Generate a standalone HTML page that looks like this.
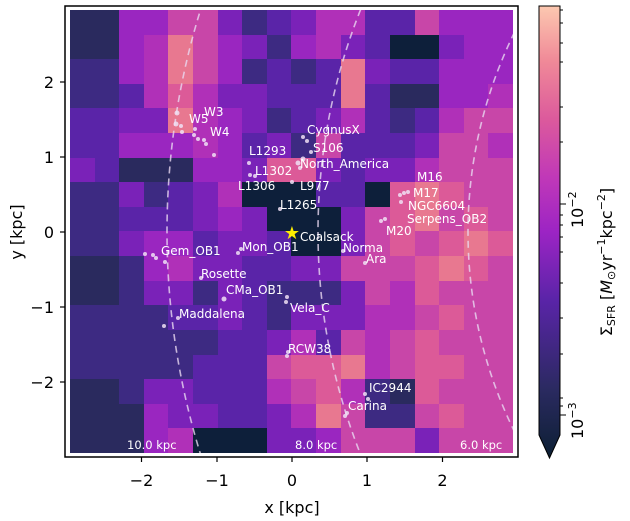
<!DOCTYPE html>
<html><head><meta charset="utf-8"><style>
html,body{margin:0;padding:0;background:#fff;width:630px;height:521px;overflow:hidden}
svg{display:block;position:absolute;left:0;top:0}
svg text{font-family:"DejaVu Sans","Liberation Sans",sans-serif}
.g{position:absolute;left:70px;top:10px;width:443px;height:443px;display:grid;grid-template-columns:repeat(18,1fr);grid-template-rows:repeat(18,1fr)}
.g i{display:block}
.a{background:#0d1f3a}.b{background:#2a2a5e}.c{background:#3d2a82}.d{background:#5a24a8}.e{background:#7a22b8}.f{background:#9a26c0}.g .g1{}
.gg{background:#b030b8}.h{background:#c846a8}.ii{background:#dc5a98}.j{background:#e87890}
</style></head><body>
<div class="g">
<i class="b"></i><i class="b"></i><i class="f"></i><i class="f"></i><i class="h"></i><i class="h"></i><i class="e"></i><i class="c"></i><i class="d"></i><i class="e"></i><i class="gg"></i><i class="gg"></i><i class="d"></i><i class="d"></i><i class="h"></i><i class="f"></i><i class="f"></i><i class="f"></i>
<i class="b"></i><i class="b"></i><i class="f"></i><i class="gg"></i><i class="j"></i><i class="h"></i><i class="f"></i><i class="e"></i><i class="c"></i><i class="f"></i><i class="gg"></i><i class="e"></i><i class="d"></i><i class="a"></i><i class="a"></i><i class="e"></i><i class="f"></i><i class="f"></i>
<i class="c"></i><i class="c"></i><i class="f"></i><i class="gg"></i><i class="j"></i><i class="h"></i><i class="f"></i><i class="c"></i><i class="d"></i><i class="c"></i><i class="d"></i><i class="j"></i><i class="e"></i><i class="d"></i><i class="d"></i><i class="f"></i><i class="f"></i><i class="f"></i>
<i class="c"></i><i class="c"></i><i class="d"></i><i class="gg"></i><i class="ii"></i><i class="gg"></i><i class="e"></i><i class="e"></i><i class="d"></i><i class="d"></i><i class="d"></i><i class="j"></i><i class="d"></i><i class="b"></i><i class="b"></i><i class="f"></i><i class="f"></i><i class="gg"></i>
<i class="d"></i><i class="d"></i><i class="e"></i><i class="e"></i><i class="j"></i><i class="gg"></i><i class="f"></i><i class="e"></i><i class="c"></i><i class="d"></i><i class="e"></i><i class="gg"></i><i class="d"></i><i class="c"></i><i class="d"></i><i class="gg"></i><i class="h"></i><i class="h"></i>
<i class="d"></i><i class="d"></i><i class="f"></i><i class="f"></i><i class="f"></i><i class="gg"></i><i class="f"></i><i class="d"></i><i class="e"></i><i class="c"></i><i class="h"></i><i class="d"></i><i class="d"></i><i class="d"></i><i class="e"></i><i class="h"></i><i class="h"></i><i class="gg"></i>
<i class="e"></i><i class="d"></i><i class="b"></i><i class="b"></i><i class="b"></i><i class="f"></i><i class="f"></i><i class="e"></i><i class="ii"></i><i class="ii"></i><i class="e"></i><i class="d"></i><i class="e"></i><i class="e"></i><i class="gg"></i><i class="h"></i><i class="h"></i><i class="h"></i>
<i class="c"></i><i class="c"></i><i class="e"></i><i class="c"></i><i class="d"></i><i class="e"></i><i class="gg"></i><i class="a"></i><i class="a"></i><i class="a"></i><i class="d"></i><i class="d"></i><i class="a"></i><i class="ii"></i><i class="j"></i><i class="ii"></i><i class="h"></i><i class="h"></i>
<i class="c"></i><i class="c"></i><i class="d"></i><i class="d"></i><i class="d"></i><i class="e"></i><i class="f"></i><i class="e"></i><i class="a"></i><i class="a"></i><i class="a"></i><i class="e"></i><i class="h"></i><i class="ii"></i><i class="j"></i><i class="h"></i><i class="ii"></i><i class="h"></i>
<i class="c"></i><i class="c"></i><i class="e"></i><i class="f"></i><i class="f"></i><i class="d"></i><i class="e"></i><i class="e"></i><i class="d"></i><i class="a"></i><i class="a"></i><i class="e"></i><i class="h"></i><i class="ii"></i><i class="h"></i><i class="ii"></i><i class="j"></i><i class="ii"></i>
<i class="b"></i><i class="b"></i><i class="c"></i><i class="f"></i><i class="gg"></i><i class="e"></i><i class="e"></i><i class="d"></i><i class="d"></i><i class="e"></i><i class="e"></i><i class="h"></i><i class="h"></i><i class="h"></i><i class="ii"></i><i class="j"></i><i class="ii"></i><i class="h"></i>
<i class="b"></i><i class="b"></i><i class="c"></i><i class="e"></i><i class="e"></i><i class="c"></i><i class="e"></i><i class="d"></i><i class="c"></i><i class="c"></i><i class="c"></i><i class="e"></i><i class="h"></i><i class="gg"></i><i class="ii"></i><i class="h"></i><i class="h"></i><i class="h"></i>
<i class="c"></i><i class="c"></i><i class="c"></i><i class="c"></i><i class="d"></i><i class="d"></i><i class="e"></i><i class="d"></i><i class="c"></i><i class="e"></i><i class="e"></i><i class="e"></i><i class="gg"></i><i class="gg"></i><i class="h"></i><i class="ii"></i><i class="h"></i><i class="h"></i>
<i class="c"></i><i class="c"></i><i class="c"></i><i class="c"></i><i class="c"></i><i class="c"></i><i class="d"></i><i class="d"></i><i class="e"></i><i class="gg"></i><i class="d"></i><i class="h"></i><i class="gg"></i><i class="h"></i><i class="ii"></i><i class="h"></i><i class="h"></i><i class="h"></i>
<i class="c"></i><i class="c"></i><i class="c"></i><i class="c"></i><i class="c"></i><i class="d"></i><i class="d"></i><i class="d"></i><i class="h"></i><i class="ii"></i><i class="ii"></i><i class="j"></i><i class="gg"></i><i class="h"></i><i class="ii"></i><i class="ii"></i><i class="h"></i><i class="h"></i>
<i class="b"></i><i class="b"></i><i class="c"></i><i class="e"></i><i class="e"></i><i class="d"></i><i class="d"></i><i class="d"></i><i class="gg"></i><i class="h"></i><i class="ii"></i><i class="gg"></i><i class="c"></i><i class="b"></i><i class="ii"></i><i class="h"></i><i class="h"></i><i class="h"></i>
<i class="b"></i><i class="b"></i><i class="b"></i><i class="f"></i><i class="e"></i><i class="e"></i><i class="d"></i><i class="d"></i><i class="e"></i><i class="gg"></i><i class="j"></i><i class="h"></i><i class="c"></i><i class="c"></i><i class="h"></i><i class="ii"></i><i class="h"></i><i class="h"></i>
<i class="b"></i><i class="b"></i><i class="b"></i><i class="f"></i><i class="gg"></i><i class="a"></i><i class="a"></i><i class="a"></i><i class="e"></i><i class="e"></i><i class="f"></i><i class="h"></i><i class="h"></i><i class="h"></i><i class="e"></i><i class="h"></i><i class="h"></i><i class="h"></i>
</div>
<svg width="630" height="521" viewBox="0 0 630 521" xmlns="http://www.w3.org/2000/svg">
<defs>
<clipPath id="cp"><rect x="70" y="10" width="443" height="443"/></clipPath>
<linearGradient id="cb" x1="0" y1="1" x2="0" y2="0">
<stop offset="0" stop-color="#0c1f33"/>
<stop offset="0.15" stop-color="#2a2a60"/>
<stop offset="0.35" stop-color="#5a24a8"/>
<stop offset="0.5" stop-color="#9c24c4"/>
<stop offset="0.62" stop-color="#c038b8"/>
<stop offset="0.75" stop-color="#dc5a9c"/>
<stop offset="0.88" stop-color="#f08a98"/>
<stop offset="1" stop-color="#fcc8b0"/>
</linearGradient>
</defs>
<rect x="65" y="6" width="453" height="451" fill="none" stroke="#000" stroke-width="1.5"/>
<g clip-path="url(#cp)" fill="none" stroke="#e8d8f0" stroke-opacity="0.8" stroke-width="1.6" stroke-dasharray="7,5">
<circle cx="920" cy="232" r="753"/>
<circle cx="920" cy="232" r="602"/>
<circle cx="920" cy="232" r="452"/>
</g>
<g fill="#f0e0f4" fill-opacity="0.85">
<circle cx="177" cy="113" r="2.5"/><circle cx="176" cy="124" r="2.5"/><circle cx="181" cy="126" r="2"/><circle cx="182" cy="132" r="2"/><circle cx="195" cy="129" r="2"/><circle cx="194" cy="135" r="2"/><circle cx="198" cy="139" r="2"/><circle cx="204" cy="140" r="2"/><circle cx="206" cy="144" r="2"/><circle cx="214" cy="155" r="2"/>
<circle cx="249" cy="163" r="2"/><circle cx="250" cy="175" r="2"/><circle cx="255" cy="176" r="2"/><circle cx="292" cy="182" r="2"/><circle cx="280" cy="209" r="2"/>
<circle cx="303" cy="137" r="2"/><circle cx="307" cy="141" r="2"/><circle cx="311" cy="152" r="2"/><circle cx="303" cy="159" r="2.5"/><circle cx="298" cy="163" r="2.5"/><circle cx="300" cy="168" r="2"/>
<circle cx="400" cy="195" r="2"/><circle cx="404" cy="193" r="2"/><circle cx="408" cy="192" r="2"/><circle cx="401" cy="202" r="2"/><circle cx="381" cy="221" r="2"/><circle cx="385" cy="219" r="2"/>
<circle cx="343" cy="251" r="2"/><circle cx="365" cy="263" r="2"/>
<circle cx="145" cy="254" r="2"/><circle cx="153" cy="255" r="2"/><circle cx="156" cy="258" r="2"/><circle cx="165" cy="262" r="2"/><circle cx="238" cy="253" r="2"/><circle cx="241" cy="249" r="2"/>
<circle cx="201" cy="278" r="2"/><circle cx="224" cy="299" r="2.5"/><circle cx="178" cy="318" r="2"/><circle cx="164" cy="326" r="2"/>
<circle cx="287" cy="297" r="2"/><circle cx="286" cy="302" r="2"/><circle cx="288" cy="352" r="2"/><circle cx="287" cy="356" r="2"/>
<circle cx="365" cy="394" r="2"/><circle cx="368" cy="399" r="2"/><circle cx="347" cy="413" r="2"/><circle cx="345" cy="416" r="2"/>
</g>
<text x="292" y="239" font-size="18" fill="#ffee00" text-anchor="middle">★</text>
<g fill="#fff" font-size="12">
<text x="204" y="116">W3</text><text x="189" y="123">W5</text><text x="210" y="136">W4</text>
<text x="307" y="134">CygnusX</text><text x="313" y="152">S106</text><text x="249" y="155">L1293</text>
<text x="300" y="168">North_America</text><text x="255" y="175">L1302</text><text x="238" y="190">L1306</text>
<text x="300" y="190">L977</text><text x="417" y="181">M16</text><text x="413" y="197">M17</text>
<text x="408" y="210">NGC6604</text><text x="407" y="223">Serpens_OB2</text><text x="280" y="209">L1265</text>
<text x="386" y="235">M20</text><text x="300" y="241">Coalsack</text><text x="343" y="252">Norma</text>
<text x="366" y="263">Ara</text><text x="161" y="255">Gem_OB1</text><text x="242" y="251">Mon_OB1</text>
<text x="201" y="278">Rosette</text><text x="226" y="294">CMa_OB1</text><text x="290" y="312">Vela_C</text>
<text x="179" y="318">Maddalena</text><text x="288" y="353">RCW38</text><text x="369" y="392">IC2944</text>
<text x="348" y="410">Carina</text>
<text x="127" y="449" font-size="11.5">10.0 kpc</text><text x="295" y="449" font-size="11.5">8.0 kpc</text><text x="460" y="449" font-size="11.5">6.0 kpc</text>
</g>
<g stroke="#000" stroke-width="1.2">
<line x1="141.5" y1="457" x2="141.5" y2="462"/><line x1="217" y1="457" x2="217" y2="462"/><line x1="292" y1="457" x2="292" y2="462"/><line x1="367" y1="457" x2="367" y2="462"/><line x1="442.5" y1="457" x2="442.5" y2="462"/>
<line x1="60" y1="82" x2="65" y2="82"/><line x1="60" y1="157" x2="65" y2="157"/><line x1="60" y1="232" x2="65" y2="232"/><line x1="60" y1="307" x2="65" y2="307"/><line x1="60" y1="382" x2="65" y2="382"/>
</g>
<g font-size="16" fill="#000" text-anchor="middle">
<text x="141.5" y="486">−2</text><text x="217" y="486">−1</text><text x="292" y="486">0</text><text x="367" y="486">1</text><text x="442.5" y="486">2</text>
<text x="292" y="513">x [kpc]</text>
</g>
<g font-size="16" fill="#000" text-anchor="end">
<text x="54" y="88">2</text><text x="54" y="163">1</text><text x="54" y="238">0</text><text x="54" y="313">−1</text><text x="54" y="388">−2</text>
</g>
<text transform="translate(22,232) rotate(-90)" font-size="16" text-anchor="middle">y [kpc]</text>
<path d="M539 6 H560 V435 L549.5 458 L539 435 Z" fill="url(#cb)" stroke="#000" stroke-width="1"/>
<g stroke="#000" stroke-width="1">
<line x1="560" y1="204" x2="566" y2="204"/><line x1="560" y1="415" x2="566" y2="415"/>
<line x1="560" y1="10" x2="563" y2="10"/><line x1="560" y1="23" x2="563" y2="23"/><line x1="560" y1="43" x2="563" y2="43"/><line x1="560" y1="62" x2="563" y2="62"/><line x1="560" y1="107" x2="563" y2="107"/><line x1="560" y1="142" x2="563" y2="142"/>
<line x1="560" y1="215" x2="563" y2="215"/><line x1="560" y1="225" x2="563" y2="225"/><line x1="560" y1="237" x2="563" y2="237"/><line x1="560" y1="252" x2="563" y2="252"/><line x1="560" y1="283" x2="563" y2="283"/><line x1="560" y1="318" x2="563" y2="318"/><line x1="560" y1="354" x2="563" y2="354"/><line x1="560" y1="398" x2="563" y2="398"/><line x1="560" y1="406" x2="563" y2="406"/>
</g>
<text transform="translate(583,228) rotate(-90)" font-size="16">10<tspan dy="-7" font-size="11">−2</tspan></text>
<text transform="translate(583,439) rotate(-90)" font-size="16">10<tspan dy="-7" font-size="11">−3</tspan></text>
<text transform="translate(612,262) rotate(-90)" font-size="16" text-anchor="middle">Σ<tspan font-size="11" dy="3">SFR</tspan><tspan dy="-3"> [</tspan><tspan font-style="italic">M</tspan><tspan font-size="11" dy="3">⊙</tspan><tspan dy="-3">yr</tspan><tspan font-size="11" dy="-7">−1</tspan><tspan dy="7">kpc</tspan><tspan font-size="11" dy="-7">−2</tspan><tspan dy="7">]</tspan></text>
</svg>
</body></html>
